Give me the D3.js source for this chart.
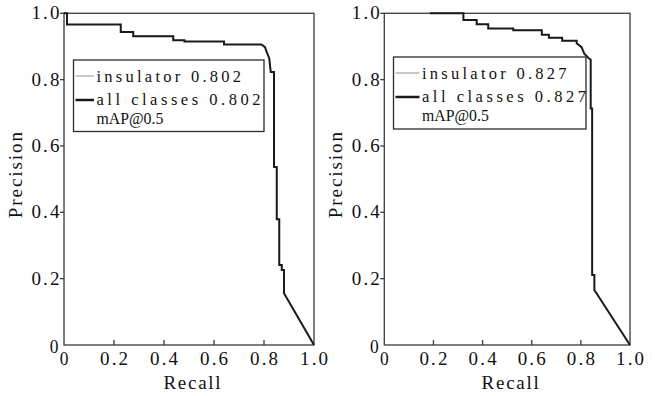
<!DOCTYPE html>
<html>
<head>
<meta charset="utf-8">
<script src="https://cdn.jsdelivr.net/npm/d3@7"></script>
<style>
  body { margin: 0; background: #fff; }
  text { font-family: 'Liberation Serif', 'DejaVu Serif', serif; fill: #111; font-size: 19px; }
  .legend text { font-size: 16.5px; }
</style>
</head>
<body>
<div id="chart"></div>
<script>
// PR curves (recall, precision)
const recallA = [0, 0.012, 0.012, 0.227, 0.227, 0.277, 0.277, 0.437, 0.437, 0.482, 0.482, 0.64, 0.64, 0.79, 0.804, 0.811, 0.821, 0.827, 0.84, 0.84, 0.851, 0.851, 0.861, 0.861, 0.871, 0.871, 0.88, 0.88, 1.0];
const precisionA = [1.0, 1.0, 0.966, 0.966, 0.944, 0.944, 0.931, 0.931, 0.919, 0.919, 0.915, 0.915, 0.906, 0.906, 0.898, 0.883, 0.864, 0.823, 0.823, 0.537, 0.537, 0.379, 0.379, 0.241, 0.241, 0.226, 0.226, 0.156, 0];

const recallB = [0.186, 0.322, 0.322, 0.376, 0.376, 0.423, 0.423, 0.525, 0.525, 0.641, 0.641, 0.67, 0.67, 0.724, 0.724, 0.783, 0.783, 0.803, 0.814, 0.83, 0.84, 0.84, 0.846, 0.846, 0.855, 0.855, 1.0];
const precisionB = [1.0, 1.0, 0.98, 0.98, 0.967, 0.967, 0.954, 0.954, 0.949, 0.949, 0.935, 0.935, 0.926, 0.926, 0.917, 0.917, 0.910, 0.898, 0.878, 0.866, 0.86, 0.713, 0.713, 0.211, 0.211, 0.166, 0];

const apA = '0.802';
const apB = '0.827';

const xTicks = [0, 0.2, 0.4, 0.6, 0.8, 1.0];
const yTicks = [0, 0.2, 0.4, 0.6, 0.8, 1.0];
const tickLabel = d => (d === 0 ? '0' : d.toFixed(1));

const width = 655;
const height = 396;
const cell = 9.7; // half-width cell, like SimSun

// stretch / squeeze a string to n half-width cells
function mono(parent, str, x, y, anchor) {
  const w = str.length * cell;
  const x0 = anchor === 'middle' ? x - w / 2 : anchor === 'end' ? x - w : x;
  const t = parent.append('text')
    .attr('x', x0 + 0.5)
    .attr('y', y)
    .text(str);
  const n = t.node().getComputedTextLength();
  t.attr('textLength', w - 1)
    .attr('lengthAdjust', n > w - 1 ? 'spacingAndGlyphs' : 'spacing');
  return t;
}

const svg = d3.select('#chart')
  .append('svg')
  .attr('width', width)
  .attr('height', height);

svg.append('rect')
  .attr('width', width)
  .attr('height', height)
  .attr('fill', '#fff');

const panels = [
  { left: 64, right: 314, top: 13.3, bottom: 345, recall: recallA, precision: precisionA, ap: apA,
    legend: { x: 73.5, y: 60, w: 190.5, h: 71.5, tx: 22.5 } },
  { left: 384.3, right: 630, top: 13.3, bottom: 345, recall: recallB, precision: precisionB, ap: apB,
    legend: { x: 393.5, y: 57, w: 192.5, h: 72, tx: 28 } },
];

panels.forEach(p => {
  const x = d3.scaleLinear().domain([0, 1]).range([p.left, p.right]);
  const y = d3.scaleLinear().domain([0, 1]).range([p.bottom, p.top]);
  const g = svg.append('g');
  const pts = p.recall.map((r, i) => [r, p.precision[i]]);

  const line = d3.line()
    .x(d => x(d[0]))
    .y(d => y(d[1]));

  // frame
  g.append('rect')
    .attr('x', p.left)
    .attr('y', p.top)
    .attr('width', p.right - p.left)
    .attr('height', p.bottom - p.top)
    .attr('fill', 'none')
    .attr('stroke', '#3a3a3a')
    .attr('stroke-width', 1.3);

  // x ticks (inward)
  g.selectAll('.xt')
    .data(xTicks.slice(1, -1))
    .enter()
    .append('line')
      .attr('x1', d => x(d))
      .attr('x2', d => x(d))
      .attr('y1', p.bottom)
      .attr('y2', p.bottom - 5)
      .attr('stroke', '#3a3a3a')
      .attr('stroke-width', 1.3);

  xTicks.forEach(d => mono(g, tickLabel(d), x(d), p.bottom + 20, 'middle'));

  // y ticks (outward)
  g.selectAll('.yt')
    .data(yTicks.slice(1))
    .enter()
    .append('line')
      .attr('x1', p.left - 4)
      .attr('x2', p.left)
      .attr('y1', d => y(d))
      .attr('y2', d => y(d))
      .attr('stroke', '#3a3a3a')
      .attr('stroke-width', 1.3);

  yTicks.forEach(d => mono(g, tickLabel(d), d === 0 ? p.left - 5 : p.left - 4,
    y(d) + (d === 0 ? 8 : 6), 'end'));

  mono(g, 'Recall', (p.left + p.right) / 2 + 3, 389, 'middle');

  const yl = g.append('g')
    .attr('transform', `translate(${p.left - 42},${(p.top + p.bottom) / 2 - 4}) rotate(-90)`);
  mono(yl, 'Precision', 0, 0, 'middle');

  // insulator (gray) under all classes (black)
  g.append('path')
    .datum(pts)
    .attr('fill', 'none')
    .attr('stroke', '#aaa')
    .attr('stroke-width', 1)
    .attr('d', line);

  g.append('path')
    .datum(pts)
    .attr('fill', 'none')
    .attr('stroke', '#1a1a1a')
    .attr('stroke-width', 2)
    .attr('d', line);

  // legend
  const L = p.legend;
  const lg = g.append('g')
    .attr('class', 'legend')
    .attr('transform', `translate(${L.x},${L.y})`);
  lg.append('rect')
    .attr('width', L.w)
    .attr('height', L.h)
    .attr('fill', '#fff')
    .attr('stroke', '#2a2a2a')
    .attr('stroke-width', 1.3);

  lg.append('line')
    .attr('x1', 2).attr('x2', L.tx - 2)
    .attr('y1', 16).attr('y2', 16)
    .attr('stroke', '#aaa')
    .attr('stroke-width', 1.3);
  lg.append('line')
    .attr('x1', 2).attr('x2', L.tx - 2)
    .attr('y1', 40).attr('y2', 40)
    .attr('stroke', '#1a1a1a')
    .attr('stroke-width', 2.5);

  mono(lg, `insulator ${p.ap}`, L.tx, 21.5, 'start');
  mono(lg, `all classes ${p.ap}`, L.tx, 45, 'start');
  mono(lg, 'mAP@0.5', L.tx, 64, 'start');
});
</script>
</body>
</html>
